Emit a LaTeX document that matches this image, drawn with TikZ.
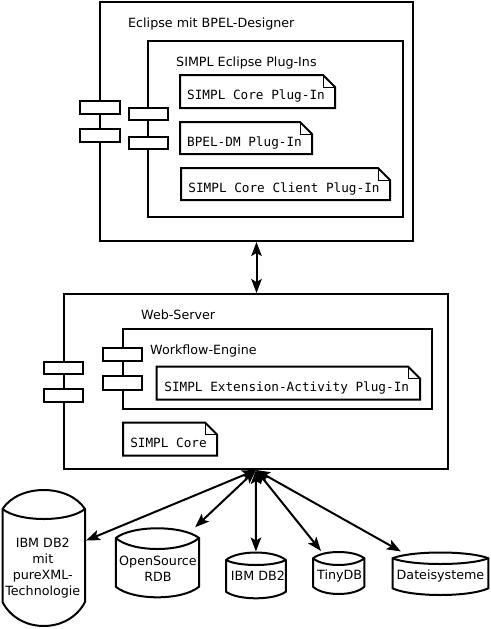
\documentclass[tikz,border=0pt]{standalone}
\usepackage{fontspec}
\setmainfont{DejaVu Sans}
\newfontfamily\notefont{DejaVu Sans Mono}
\usetikzlibrary{arrows.meta,fit}
\tikzset{
  outline/.style={line width=2pt},
  thinline/.style={line width=1pt},
  cbox/.style={draw, line width=2pt, rectangle, inner sep=0pt},
  port/.style={draw, fill=white, line width=2pt, rectangle, inner sep=0pt},
  notebox/.style={rectangle, inner sep=0pt, outer sep=0pt, font=\notefont, text height=16pt, text depth=0pt},
  lbl/.style={inner sep=0pt, anchor=base west},
  dbarea/.style={rectangle, inner sep=0pt, outer sep=1pt},
  dblbl/.style={inner sep=0pt, align=center},
  conn/.style={line width=2pt, {Stealth[length=14pt,width=10.5pt,inset=3pt]}-{Stealth[length=14pt,width=10.5pt,inset=3pt]}}
}
\newcommand\notenode[6]{%
  \node[notebox, minimum width={(#4-#2)*1pt}, minimum height={(#5-#3)*1pt}] (#1) at ({(#2+#4)/2-1.5},{(#3+#5)/2}) {#6};
  \draw[outline] (#2,#3) -- ({#4-12},#3) -- (#4,{#3+12}) -- (#4,#5) -- (#2,#5) -- cycle;
  \draw[thinline] ({#4-12},#3) |- (#4,{#3+12});}
\newcommand\dbdraw[7]{%
  \draw[outline] (#1,#4) .. controls ({#1+0.2*(#2-#1)},{#4-4/3*(#4-#3)}) and ({#2-0.2*(#2-#1)},{#4-4/3*(#4-#3)}) .. (#2,#4) -- (#2,#6) .. controls ({#2-0.2*(#2-#1)},{#6+4/3*(#7-#6)}) and ({#1+0.2*(#2-#1)},{#6+4/3*(#7-#6)}) .. (#1,#6) -- cycle;
  \draw[outline] (#1,#4) .. controls ({#1+0.2*(#2-#1)},{#4+4/3*(#5-#4)}) and ({#2-0.2*(#2-#1)},{#4+4/3*(#5-#4)}) .. (#2,#4);}
\begin{document}
\fontsize{12.7pt}{15.8pt}\selectfont
\begin{tikzpicture}[x=1pt,y=-1pt]
\useasboundingbox (0,0) rectangle (490,629);
% Eclipse
\node[cbox, fit={(100,1.5)(413,241)}] (eclipse) {};
\node[lbl] (eclipselbl) at (128,27.5) {Eclipse mit BPEL-Designer};
\node[cbox, fit={(148,41)(403,217)}] (plugins) {};
\node[lbl] (pluginslbl) at (176,66) {SIMPL Eclipse Plug-Ins};
\node[port, fit={(80,101)(120,114)}] (ep1) {};
\node[port, fit={(80,129)(120,142)}] (ep2) {};
\node[port, fit={(128.5,108)(167.5,120)}] (pp1) {};
\node[port, fit={(128.5,136.5)(167.5,149)}] (pp2) {};
\notenode{n1}{180}{75}{335}{108}{SIMPL Core Plug-In}
\notenode{n2}{180}{122}{312}{154}{BPEL-DM Plug-In}
\notenode{n3}{181}{168}{390}{200}{SIMPL Core Client Plug-In}
% Web server
\node[cbox, fit={(64,294)(448,469)}] (web) {};
\node[lbl] (weblbl) at (141,319) {Web-Server};
\node[cbox, fit={(122.5,328.5)(431.5,408.5)}] (wf) {};
\node[lbl] (wflbl) at (150,354) {Workflow-Engine};
\node[port, fit={(43.5,361.5)(82.5,373.5)}] (wp1) {};
\node[port, fit={(43.5,388.5)(82.5,401.5)}] (wp2) {};
\node[port, fit={(102.5,347.5)(141.5,360.5)}] (fp1) {};
\node[port, fit={(102.5,375.5)(141.5,389.5)}] (fp2) {};
\notenode{n4}{156.5}{366.5}{420}{399.5}{SIMPL Extension-Activity Plug-In}
\notenode{n5}{123}{422.5}{217}{455.5}{SIMPL Core}
% connection eclipse - web
\draw[conn] (eclipse.south) -- (eclipse.south |- web.north);
% databases
\coordinate (hub) at (web.south);
\dbdraw{2.5}{85}{490}{509}{519}{602}{626}
\node[dbarea, fit={(2.5,490)(85,626)}] (db1) {};
\node[dblbl, anchor=north] (db1lbl) at (42.8,538.3) {IBM DB2\\mit\\pureXML-\\Technologie};
\dbdraw{115.8}{199}{528.3}{538}{549}{586.7}{597.3}
\node[dbarea, fit={(115.8,528.3)(199,597.3)}] (db2) {};
\node[dblbl, anchor=north] (db2lbl) at (158,556) {OpenSource\\RDB};
\dbdraw{226}{285.8}{552.5}{560}{565}{591.7}{598.3}
\node[dbarea, fit={(226,552.5)(285.8,598.3)}] (db3) {};
\node[dblbl, anchor=base] (db3lbl) at (258,580.7) {IBM DB2};
\dbdraw{313}{364.3}{552}{558.3}{565}{586.7}{594}
\node[dbarea, fit={(313,552)(364.3,594)}] (db4) {};
\node[dblbl, anchor=base] (db4lbl) at (339.7,579.3) {TinyDB};
\dbdraw{392.5}{488.3}{552.5}{558.3}{564}{588.3}{595}
\node[dbarea, fit={(392.5,552.5)(488.3,595)}] (db5) {};
\node[dblbl, anchor=base] (db5lbl) at (440.5,579) {Dateisysteme};
\draw[conn] (hub) -- (db1);
\draw[conn] (hub) -- (db2);
\draw[conn] (hub) -- (db3);
\draw[conn] (hub) -- (db4);
\draw[conn] (hub) -- (db5);
\end{tikzpicture}
\end{document}
